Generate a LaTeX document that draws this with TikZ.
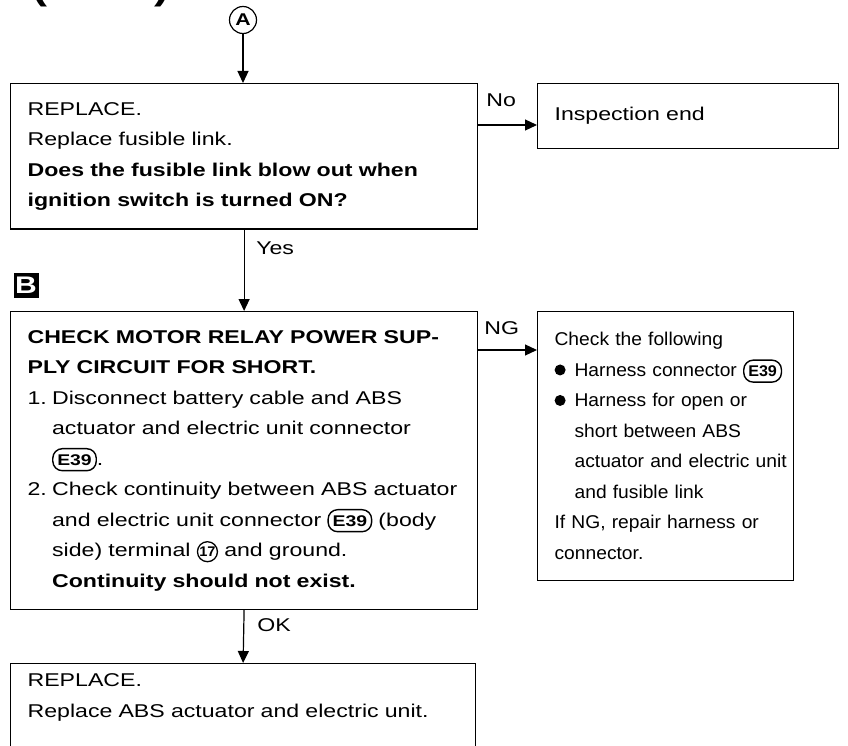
\documentclass[tikz,border=0pt]{standalone}
\usepackage{fontspec}
\setmainfont[FakeStretch=1.25]{Liberation Sans}
\newfontfamily\narrowfont[FakeStretch=1.04]{Liberation Sans}
\usetikzlibrary{arrows.meta,positioning,shapes.geometric}

\newcommand{\bodyfont}{\fontsize{18.5}{30.5}\selectfont}
\newcommand{\narrowbody}{\narrowfont\fontsize{18.5}{30.5}\selectfont}
\newcommand{\blt}{\tikz[baseline=0pt]\fill (0,6.5pt) circle (5.5pt);}
\newcommand{\bltitem}{\makebox[20pt][l]{\blt}}
\newcommand{\stepno}[1]{\makebox[24.5pt][l]{#1}}
\newcommand{\hang}{\hspace*{24.5pt}}
\newcommand{\hangb}{\hspace*{20pt}}
\newcommand{\connE}[1]{\tikz[baseline=(cn.base)]\node (cn) [draw, line width=1.4pt, rounded corners=9.5pt, minimum height=22pt, inner xsep=4.5pt, inner ysep=1pt, font=\bfseries\fontsize{15.5}{15.5}\selectfont] {#1};}
\newcommand{\termno}[1]{\tikz[baseline=(tn.base)]\node (tn) [circle, draw, line width=1.3pt, minimum size=20pt, inner sep=0pt, font=\narrowfont\bfseries\fontsize{14}{14}\selectfont] {#1};}

\begin{document}
\begin{tikzpicture}[x=1pt, y=-1pt,
    >={Triangle[length=12pt,width=11pt]},
    box/.style={draw, line width=1.2pt, anchor=north west, align=left,
      inner xsep=17pt, inner ysep=18.5pt, font=\bodyfont},
    lbl/.style={font=\bodyfont, inner sep=0pt, anchor=base west},
    link/.style={->, line width=1.2pt}
  ]
  \useasboundingbox (0,0) rectangle (848,746);

  % cut-off heading
  \node[anchor=base, font=\bfseries\fontsize{36}{36}\selectfont] (hl) at (40,0) {(};
  \node[anchor=base, font=\bfseries\fontsize{36}{36}\selectfont] (hr) at (162,0) {)};

  \node[circle, draw, line width=1.2pt, minimum size=27pt, inner sep=0pt,
    font=\bfseries\fontsize{17}{17}\selectfont] (markA) at (243,20) {A};

  \node[box, text width=433pt] (replace1) at (10,83) {REPLACE.\\
    Replace fusible link.\\
    \mbox{\textbf{Does the fusible link blow out when}}\\
    \textbf{ignition switch is turned ON?}};

  \node[box, text width=267pt, minimum height=65pt] (inspend) at (537,83) {Inspection end};

  \node[fill=black, text=white, minimum size=25pt, inner sep=0pt,
    font=\bfseries\fontsize{24}{24}\selectfont] (markB) at (26,285) {B};

  \node[box, text width=433pt] (checkrelay) at (10,311) {\mbox{\textbf{CHECK MOTOR RELAY POWER SUP-}}\\
    \textbf{PLY CIRCUIT FOR SHORT.}\\
    \mbox{\stepno{1.}Disconnect battery cable and ABS}\\
    \mbox{\hang actuator and electric unit connector}\\
    \hang\connE{E39}.\\
    \mbox{\stepno{2.}Check continuity between ABS actuator}\\
    \mbox{\hang and electric unit connector \connE{E39} (body}\\
    \mbox{\hang side) terminal \termno{17} and ground.}\\
    \mbox{\hang\textbf{Continuity should not exist.}}};

  \node[box, font=\narrowbody, text width=222pt, minimum height=269pt] (repairng) at (537,311) {Check the following\\
    \mbox{\bltitem Harness connector \connE{E39}}\\
    \mbox{\bltitem Harness for open or}\\
    \mbox{\hangb short between ABS}\\
    \mbox{\hangb actuator and electric unit}\\
    \mbox{\hangb and fusible link}\\
    \mbox{If NG, repair harness or}\\
    connector.};

  \node[box, text width=431pt, inner ysep=10pt, text depth=80pt] (replace2) at (10,663) {REPLACE.\\
    \mbox{Replace ABS actuator and electric unit.}};

  % connectors
  \draw[link] (markA) -- (markA |- replace1.north);
  \draw[link] (replace1.south) -- (checkrelay.north);
  \draw[link] (checkrelay.south) -- (replace2.north);
  \draw[link] (replace1.north east) ++(0,42) coordinate (noA) -- (noA -| inspend.west);
  \draw[link] (checkrelay.north east) ++(0,39) coordinate (ngA) -- (ngA -| repairng.west);

  \node[lbl] (noL) at ([shift={(8,-18)}]noA) {No};
  \node[lbl] (yesL) at ([shift={(12,25)}]replace1.south) {Yes};
  \node[lbl] (ngL) at ([shift={(6,-16)}]ngA) {NG};
  \node[lbl] (okL) at ([shift={(13,22)}]checkrelay.south) {OK};
\end{tikzpicture}
\end{document}
